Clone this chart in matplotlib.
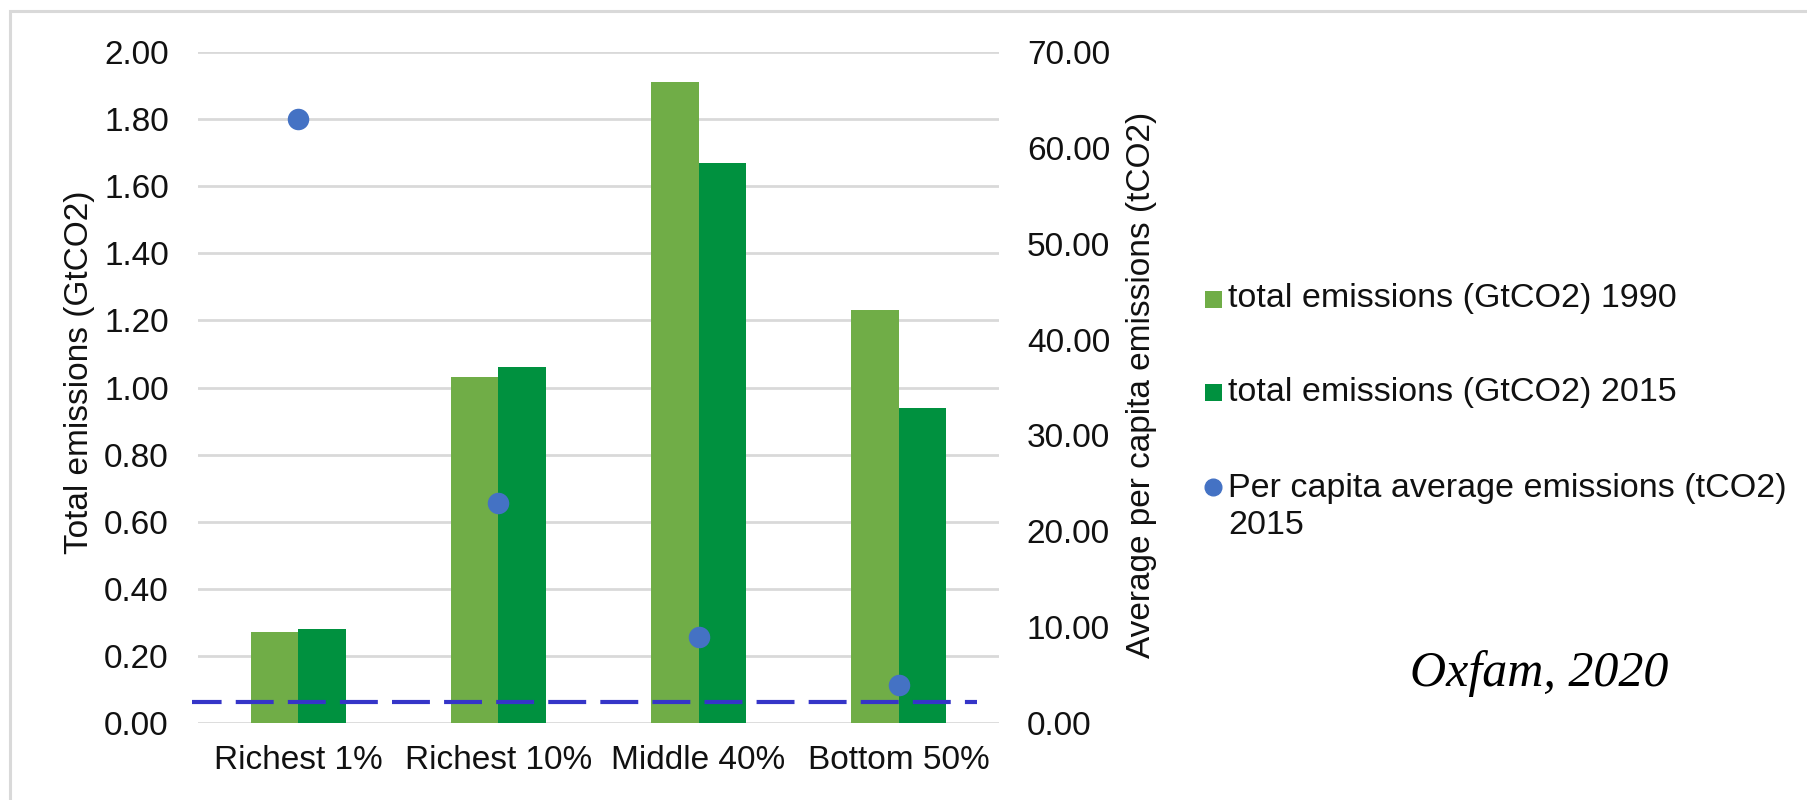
"""
Total and per capita CO2 emissions by income group (Oxfam, 2020)
"""

import matplotlib
matplotlib.use('Agg')
import matplotlib.pyplot as plt
from matplotlib.patches import Rectangle
from matplotlib.lines import Line2D
import numpy as np

# data
groups = ['Richest 1%', 'Richest 10%', 'Middle 40%', 'Bottom 50%']
total_1990 = [0.27, 1.03, 1.91, 1.23]
total_2015 = [0.28, 1.06, 1.67, 0.94]
per_capita_2015 = [63.0, 23.0, 9.0, 4.0]
reference_level = 2.2  # tCO2 per capita, dashed line

left_ticks = np.arange(0, 2.01, 0.2)
right_ticks = np.arange(0, 70.1, 10)

c_1990 = '#70AD47'
c_2015 = '#00913F'
c_dot = '#4472C4'
c_ref = '#3535C8'
c_grid = '#D9D9D9'
c_text = '#111111'

plt.rcParams['font.family'] = ['Liberation Sans', 'DejaVu Sans']
FS = 24
FS_LEG = 24.5

W, H = 1808, 800
fig = plt.figure(figsize=(W / 100, H / 100), dpi=100)


def fx(px):
    return px / W


def fy(py):
    return 1 - py / H


# light frame around the chart
fig.add_artist(Rectangle((fx(10), -0.05), 1.1, fy(11) + 0.05,
                         transform=fig.transFigure, fill=False,
                         edgecolor=c_grid, linewidth=2.2))

ax = fig.add_axes([fx(198), fy(723), fx(999) - fx(198), fy(52) - fy(723)])
x = np.arange(len(groups))
width = 0.237

ax.bar(x - width / 2, total_1990, width, color=c_1990, zorder=2)
ax.bar(x + width / 2, total_2015, width, color=c_2015, zorder=2)

ax.set_xlim(-0.5, len(groups) - 0.5)
ax.set_ylim(0, 2.0)
ax.set_yticks(left_ticks)
ax.set_yticklabels([f'{v:.2f}' for v in left_ticks])
ax.set_xticks(x)
ax.set_xticklabels(groups)
ax.grid(axis='y', color=c_grid, linewidth=2.0, zorder=0)
ax.set_axisbelow(True)
for s in ax.spines.values():
    s.set_visible(False)
ax.tick_params(axis='y', length=0, pad=21, labelsize=FS, labelcolor=c_text)
ax.tick_params(axis='x', length=0, pad=16, labelsize=FS, labelcolor=c_text)

# right axis: per capita emissions
ax2 = ax.twinx()
ax2.set_ylim(0, 70)
ax2.set_yticks(right_ticks)
ax2.set_yticklabels([f'{v:.2f}' for v in right_ticks])
for s in ax2.spines.values():
    s.set_visible(False)
ax2.tick_params(axis='y', length=0, pad=20, labelsize=FS, labelcolor=c_text)

ax2.plot([-0.53, 3.39], [reference_level, reference_level], color=c_ref,
         linewidth=3.0, linestyle=(2.0, (9.1, 3.4)), clip_on=False, zorder=3)
ax2.scatter(x, per_capita_2015, s=240, color=c_dot, zorder=4, linewidths=0)

# axis titles
fig.text(fx(80), fy(372), 'Total emissions (GtCO2)', rotation=90,
         ha='center', va='center', fontsize=FS, color=c_text)
fig.text(fx(1142), fy(385), 'Average per capita emissions (tCO2)', rotation=90,
         ha='center', va='center', fontsize=FS, color=c_text)

# legend, drawn by hand to follow the original layout
sq = 17
mx = 1213
tx = 1228
for cy, col, label in [(299, c_1990, 'total emissions (GtCO2) 1990'),
                       (392, c_2015, 'total emissions (GtCO2) 2015')]:
    fig.add_artist(Rectangle((fx(mx - sq / 2), fy(cy + sq / 2)), sq / W, sq / H,
                             transform=fig.transFigure, facecolor=col,
                             edgecolor='none'))
    fig.text(fx(tx), fy(cy), label, ha='left', va='center',
             fontsize=FS_LEG, color=c_text)

fig.add_artist(Line2D([fx(mx)], [fy(487)], marker='o', markersize=12,
                      color=c_dot, transform=fig.transFigure, linestyle='none'))
fig.text(fx(tx), fy(501), 'Per capita average emissions (tCO2)\n2015',
         ha='left', va='center_baseline', fontsize=FS_LEG, color=c_text,
         linespacing=1.25)

fig.text(fx(1539), fy(686), 'Oxfam, 2020', ha='center', va='baseline',
         fontsize=36, style='italic', family='Liberation Serif', color='black')

fig.savefig('out.png', dpi=100)
